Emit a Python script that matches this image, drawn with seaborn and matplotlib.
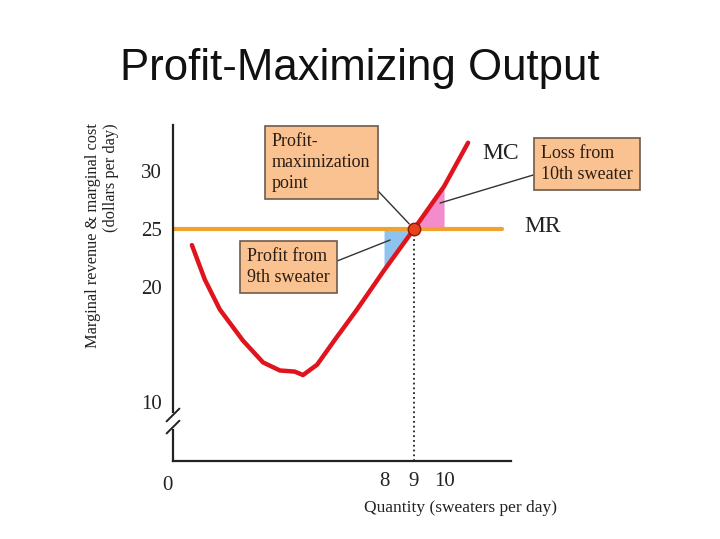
import numpy as np
import seaborn as sns
import matplotlib.pyplot as plt

# marginal cost curve (quantity, dollars per day)
mc_q = [1.6, 2.03, 2.53, 3.3, 3.97, 4.53, 5.03, 5.3, 5.77, 6.37, 7.1, 8.0, 9.0, 10.0, 10.8]
mc_cost = [23.6, 20.6, 18.0, 15.3, 13.4, 12.7, 12.6, 12.3, 13.2, 15.4, 18.0, 21.4, 25.0, 28.7, 32.5]

# marginal revenue (flat at the price)
mr_q = [1.0, 11.93]
mr_rev = [25, 25]

best_q = 9
price = 25

ytick_vals = [10, 20, 25, 30]
xtick_vals = [8, 9, 10]

sns.set_style('white')
plt.rcParams['font.family'] = ['Liberation Serif', 'DejaVu Serif']

fig = plt.figure(figsize=(7.2, 5.39), dpi=100)
ax = fig.add_axes([173 / 720, 1 - 461 / 539, 338 / 720, 336 / 539])

ax.set_xlim(0.97, 12.23)
ax.set_ylim(4.83, 34.04)

q = np.array(mc_q)
c = np.array(mc_cost)
m9 = (q >= 8) & (q <= 9)
m10 = (q >= 9) & (q <= 10)
ax.fill_between(q[m9], c[m9], price, color='#8ec3f0', lw=0)
ax.fill_between(q[m10], c[m10], price, color='#f28ccb', lw=0)

sns.lineplot(x=mr_q, y=mr_rev, ax=ax, color='#f0a22e', lw=3)
sns.lineplot(x=mc_q, y=mc_cost, ax=ax, sort=False, color='#e0141c', lw=3.2,
             solid_joinstyle='round', solid_capstyle='round')

ax.vlines(best_q, 4.83, price, colors='#222222', linestyles=':', lw=1.3)
ax.scatter([best_q], [price], s=80, color='#e8421c', edgecolor='#8a1a00', lw=1, zorder=5)

ax.text(11.87, 31.6, 'MC', fontsize=17, ha='center', va='center', color='#222')
ax.text(13.27, 25.2, 'MR', fontsize=17, ha='center', va='center', color='#222', clip_on=False)

# axes styling
for s in ['top', 'right']:
    ax.spines[s].set_visible(False)
for s in ['left', 'bottom']:
    ax.spines[s].set_color('#222')
    ax.spines[s].set_linewidth(1.6)

ax.set_yticks(ytick_vals)
ax.set_yticklabels([str(v) for v in ytick_vals])
ax.set_xticks(xtick_vals)
ax.set_xticklabels([str(v) for v in xtick_vals])
ax.tick_params(axis='both', length=0, labelsize=15, colors='#222')
ax.tick_params(axis='y', pad=8)
ax.tick_params(axis='x', pad=8)
ax.text(-0.015, -0.045, '0', transform=ax.transAxes, fontsize=15, ha='center', va='top', color='#222')

# axis break on y
ax.plot([0, 0], [0.101, 0.137], transform=ax.transAxes, color='white', lw=3, clip_on=False, zorder=4)
for yb in [0.137, 0.101]:
    ax.plot([-0.019, 0.019], [yb - 0.019, yb + 0.019], transform=ax.transAxes,
            color='#222', lw=1.4, clip_on=False, zorder=5)

ax.set_xlabel('Quantity (sweaters per day)', fontsize=12.5, color='#222')
ax.xaxis.set_label_coords(0.852, -0.115)
fig.text(102 / 720, 1 - 123 / 539, 'Marginal revenue & marginal cost\n(dollars per day)',
         rotation=90, ha='center', va='top', multialignment='right', fontsize=11.8, color='#222')

fig.text(0.5, 1 - 80 / 539, 'Profit-Maximizing Output', fontsize=31.5, ha='center', va='baseline',
         family=['Liberation Sans', 'DejaVu Sans'], color='#111')

box = dict(boxstyle='square,pad=0.4', fc='#fac291', ec='#6e5b4b', lw=1.2)
arrow = dict(arrowstyle='-', color='#333', lw=1, shrinkA=0, shrinkB=5)

ax.annotate('Profit-\nmaximization\npoint', xy=(best_q, price), xytext=(272, 539 - 133),
            textcoords='figure pixels', ha='left', va='top', fontsize=13, color='#2b1d12',
            linespacing=1.3, bbox=box, arrowprops=dict(arrow, relpos=(1, 0.15)))
ax.annotate('Profit from\n9th sweater', xy=(8.2, 24.04), xytext=(247, 539 - 248),
            textcoords='figure pixels', ha='left', va='top', fontsize=13, color='#2b1d12',
            linespacing=1.3, bbox=box, arrowprops=dict(arrow, relpos=(1, 0.58), shrinkB=0))
ax.annotate('Loss from\n10th sweater', xy=(9.87, 27.26), xytext=(541, 539 - 145),
            textcoords='figure pixels', ha='left', va='top', fontsize=13, color='#2b1d12',
            linespacing=1.3, bbox=box, arrowprops=dict(arrow, relpos=(0, 0.27), shrinkB=0))

fig.savefig('out.png', dpi=100)
